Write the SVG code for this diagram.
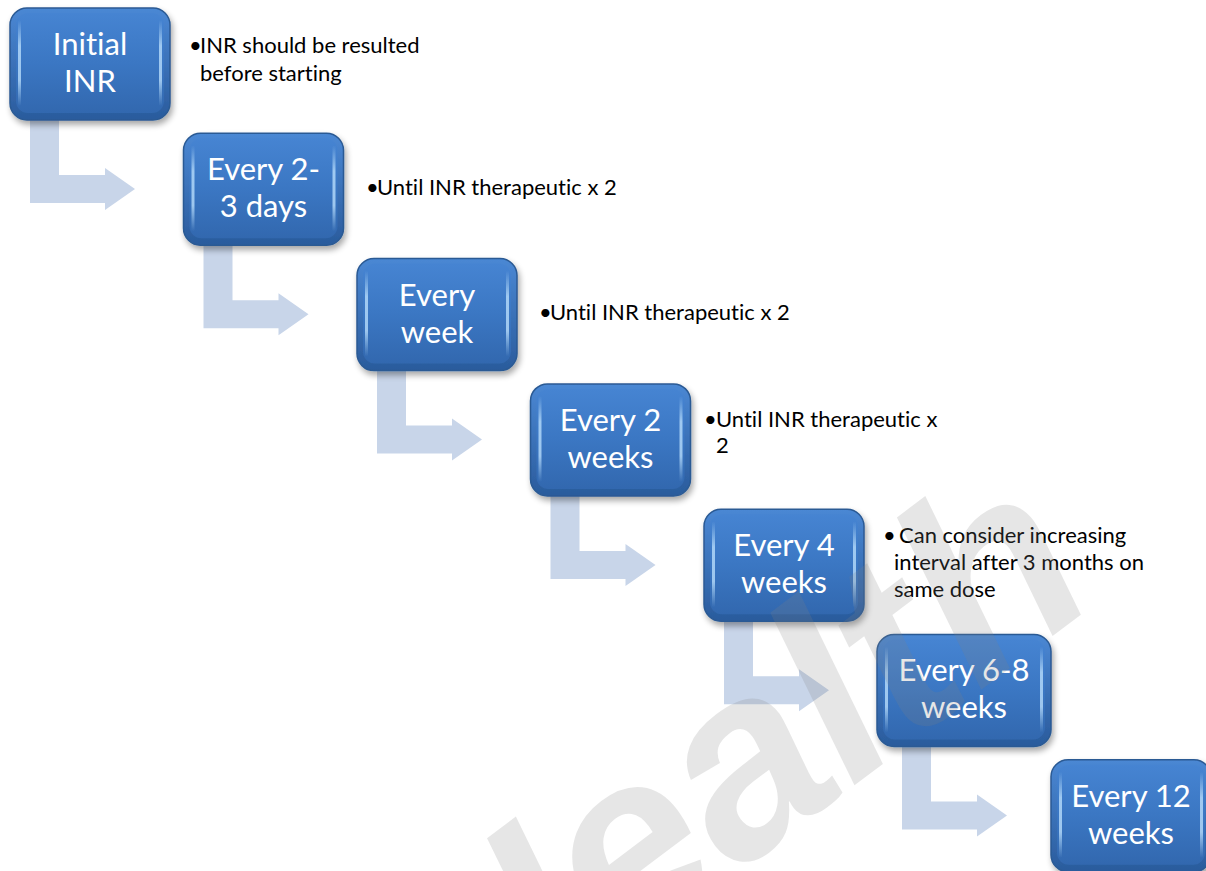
<svg xmlns="http://www.w3.org/2000/svg" xmlns:xlink="http://www.w3.org/1999/xlink" width="1206" height="871" viewBox="0 0 1206 871">
<style>
.bt{font-family:Lato,"Open Sans","Liberation Sans",sans-serif;font-size:31px;fill:#ffffff;text-anchor:middle;font-variant-ligatures:none;font-feature-settings:"liga" 0,"clig" 0}
.nt{font-family:Lato,"Open Sans","Liberation Sans",sans-serif;font-size:22px;fill:#000000;font-variant-ligatures:none;font-feature-settings:"liga" 0,"clig" 0}
.arr{fill:#c8d5e9}
.wm{font-family:"Liberation Sans",Arial,sans-serif;font-weight:bold;font-style:italic;font-size:260px;fill:#808080;fill-opacity:0.2}
</style>
<defs>
<linearGradient id="gRim" x1="0" y1="0" x2="0" y2="1">
<stop offset="0" stop-color="#4b88d4"/>
<stop offset="1" stop-color="#2a5b9c"/>
</linearGradient>
<linearGradient id="gBody" x1="0" y1="0" x2="0" y2="1">
<stop offset="0" stop-color="#4684d2"/>
<stop offset="0.5" stop-color="#3b77c3"/>
<stop offset="1" stop-color="#3268af"/>
</linearGradient>
<linearGradient id="gHi" x1="0" y1="0" x2="0" y2="1">
<stop offset="0" stop-color="#bfe3ff" stop-opacity="0"/>
<stop offset="0.3" stop-color="#bfe3ff" stop-opacity="0.75"/>
<stop offset="0.7" stop-color="#bfe3ff" stop-opacity="0.75"/>
<stop offset="1" stop-color="#bfe3ff" stop-opacity="0"/>
</linearGradient>
<filter id="sh" x="-10%" y="-10%" width="130%" height="140%">
<feGaussianBlur in="SourceAlpha" stdDeviation="3"/>
<feOffset dx="2" dy="4" result="b"/>
<feComponentTransfer><feFuncA type="linear" slope="0.35"/></feComponentTransfer>
<feMerge><feMergeNode/><feMergeNode in="SourceGraphic"/></feMerge>
</filter>
<g id="box160">
<rect x="0" y="0" width="160" height="112" rx="17" fill="url(#gRim)" stroke="#2b5a94" stroke-width="1.5" filter="url(#sh)"/>
<rect x="6" y="5" width="148" height="100" rx="12" fill="url(#gBody)"/>
<rect x="8" y="12" width="3" height="86" rx="1.5" fill="url(#gHi)"/>
<rect x="149" y="12" width="3" height="86" rx="1.5" fill="url(#gHi)"/>
</g>
<g id="box174">
<rect x="0" y="0" width="174" height="112" rx="17" fill="url(#gRim)" stroke="#2b5a94" stroke-width="1.5" filter="url(#sh)"/>
<rect x="6" y="5" width="162" height="100" rx="12" fill="url(#gBody)"/>
<rect x="8" y="12" width="3" height="86" rx="1.5" fill="url(#gHi)"/>
<rect x="163" y="12" width="3" height="86" rx="1.5" fill="url(#gHi)"/>
</g>
<path id="arrowShape" d="M0,0 H29 V57 H75 V50 L105,71 L75,92 V85 H0 Z"/>
</defs>
<rect width="1206" height="871" fill="#ffffff"/>

<g id="connectors">
<use xlink:href="#arrowShape" class="arr" x="30" y="118"/>
<use xlink:href="#arrowShape" class="arr" x="203.5" y="243.3"/>
<use xlink:href="#arrowShape" class="arr" x="377" y="368.6"/>
<use xlink:href="#arrowShape" class="arr" x="550.5" y="493.9"/>
<use xlink:href="#arrowShape" class="arr" x="724" y="619.2"/>
<use xlink:href="#arrowShape" class="arr" x="902" y="744.5"/>
</g>

<g id="node1">
<use xlink:href="#box160" x="10" y="8"/>
<text class="bt" x="90" y="55">Initial</text>
<text class="bt" x="90" y="92">INR</text>
<text class="nt" y="53"><tspan x="189">•</tspan><tspan x="200">INR should be resulted</tspan></text>
<text class="nt" x="200" y="81">before starting</text>
</g>

<g id="node2">
<use xlink:href="#box160" x="183.5" y="133.3"/>
<text class="bt" x="263.5" y="180">Every 2-</text>
<text class="bt" x="263.5" y="217">3 days</text>
<text class="nt" y="195"><tspan x="366">•</tspan><tspan x="377">Until INR therapeutic x 2</tspan></text>
</g>

<g id="node3">
<use xlink:href="#box160" x="357" y="258.6"/>
<text class="bt" x="437" y="306">Every</text>
<text class="bt" x="437" y="343">week</text>
<text class="nt" y="320"><tspan x="539">•</tspan><tspan x="550">Until INR therapeutic x 2</tspan></text>
</g>

<g id="node4">
<use xlink:href="#box160" x="530.5" y="383.9"/>
<text class="bt" x="610.5" y="431">Every 2</text>
<text class="bt" x="610.5" y="468">weeks</text>
<text class="nt" y="427"><tspan x="704">•</tspan><tspan x="716">Until INR therapeutic x</tspan></text>
<text class="nt" x="716" y="453">2</text>
</g>

<g id="node5">
<use xlink:href="#box160" x="704" y="509.2"/>
<text class="bt" x="784" y="556">Every 4</text>
<text class="bt" x="784" y="593">weeks</text>
<text class="nt" y="543"><tspan x="883">•</tspan><tspan x="899">Can consider increasing</tspan></text>
<text class="nt" x="894" y="570">interval after 3 months on</text>
<text class="nt" x="894" y="597">same dose</text>
</g>

<g id="node6">
<use xlink:href="#box174" x="877" y="634.5"/>
<text class="bt" x="964" y="681">Every 6-8</text>
<text class="bt" x="964" y="718">weeks</text>
</g>

<g id="node7">
<use xlink:href="#box160" x="1051" y="759.8"/>
<text class="bt" x="1131" y="807">Every 12</text>
<text class="bt" x="1131" y="844">weeks</text>
</g>

<g id="watermark">
<text class="wm" transform="translate(470,1075) rotate(-37)">Health</text>
</g>
</svg>
